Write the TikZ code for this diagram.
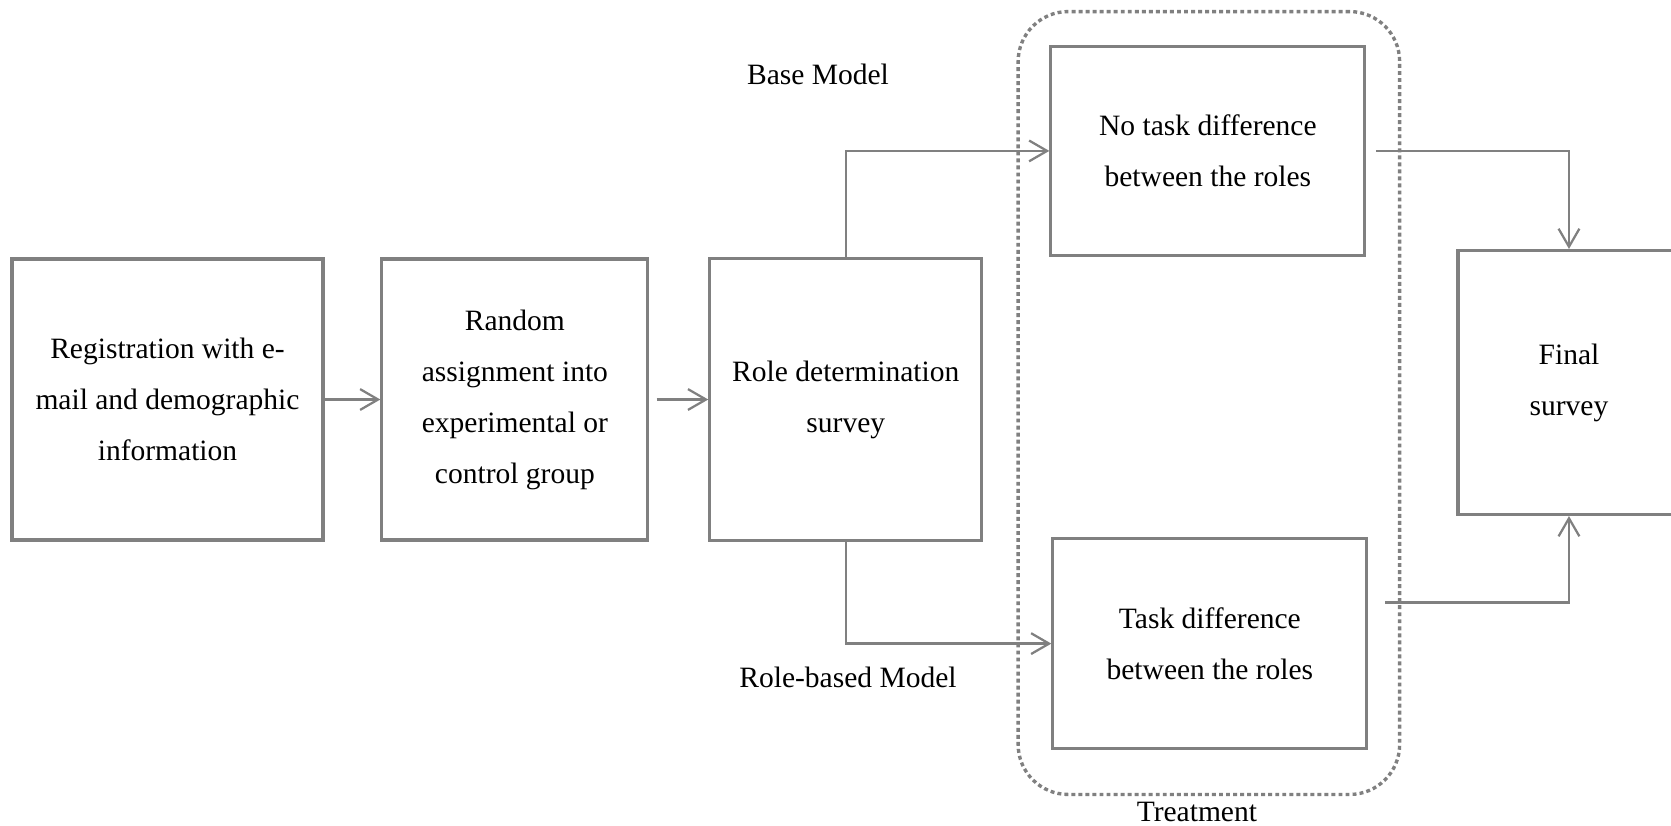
\documentclass[tikz,border=0pt]{standalone}
\usepackage{fontspec}
\setmainfont{Liberation Serif}
\usepackage{tikz}
\usetikzlibrary{arrows.meta, positioning, fit, calc}
\definecolor{LineGray}{RGB}{128, 128, 128}

\begin{document}
\begin{tikzpicture}[node distance=1.5cm]
        \tikzset{
            step_box/.style={rectangle, draw=LineGray, line width=2.2pt, fill=white, align=center, inner sep=0pt, font=\fontsize{21}{36.3}\selectfont},
            flow_arrow/.style={draw=LineGray, line width=1.6pt, -{Straight Barb[length=0.45cm, width=0.52cm]}},
            treat_frame/.style={rectangle, draw=LineGray, line width=2.4pt, dash pattern=on 2.8pt off 2.2pt, rounded corners=1.25cm},
            side_label/.style={inner sep=1pt, font=\fontsize{21}{25}\selectfont}
        }
        \useasboundingbox (0,0) rectangle (41.775,-20.625);

        \node[step_box, minimum width=7.775cm, minimum height=7.025cm] (reg) at (4.1875,-9.9875) {Registration with e-\\mail and demographic\\information};
        \node[step_box, minimum width=6.65cm, minimum height=7.025cm, right=1.395cm of reg] (rand) {Random\\assignment into\\experimental or\\control group};
        \node[step_box, minimum width=6.8cm, minimum height=7.05cm, right=1.47cm of rand] (role) {Role determination\\survey};

        \node[step_box, minimum width=7.85cm, minimum height=5.225cm, above right=0cm and 1.65cm of role.north east] (notask) {No task difference\\between the roles};
        \node[step_box, minimum width=7.85cm, minimum height=5.25cm, below right=-0.125cm and 1.7cm of role.south east] (task) {Task difference\\between the roles};
        \node[step_box, minimum width=5.55cm, minimum height=6.6cm, below right=-0.2cm and 2.25cm of notask.south east] (final) {Final\\survey};

        \node[treat_frame, fit=(notask)(task), inner xsep=0.78cm, inner ysep=0.97cm, yshift=-0.1375cm] (treat) {};
        \node[side_label, inner sep=0pt, below=0.15cm of treat, xshift=-0.3cm] (treatlabel) {Treatment};
        \node[side_label] (base) at (20.45,-1.85) {Base Model};
        \node[side_label] (rolebased) at (21.2,-16.925) {Role-based Model};

        \draw[flow_arrow] (reg) -- (rand);
        \draw[flow_arrow, shorten <=0.18cm] (rand) -- (role);
        \draw[flow_arrow] (role.north) |- (notask.west);
        \draw[flow_arrow] (role.south) |- (task.west);
        \draw[flow_arrow, shorten <=0.25cm] (notask.east) -| (final.north);
        \draw[flow_arrow, shorten <=0.425cm] ([yshift=1.025cm]task.east) -| (final.south);

    \end{tikzpicture}
\end{document}
